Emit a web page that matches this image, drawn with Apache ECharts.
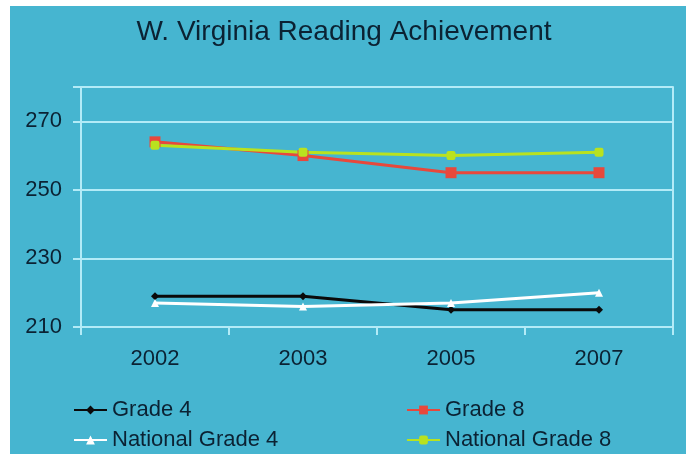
<!DOCTYPE html>
<html>
<head>
<meta charset="utf-8">
<script src="https://cdn.jsdelivr.net/npm/echarts@6/dist/echarts.min.js"></script>
<style>
  html, body { margin: 0; padding: 0; background: #fff; }
  #chart { position: absolute; left: 10px; top: 6px; width: 676px; height: 448px; }
</style>
</head>
<body>
<div id="chart"></div>
<script>
const years = ['2002', '2003', '2005', '2007']
const grade4 = [219, 219, 215, 215]
const grade8 = [264, 260, 255, 255]
const natGrade4 = [217, 216, 217, 220]
const natGrade8 = [263, 261, 260, 261]
const yMin = 210
const yMax = 280
const yStep = 20

const textColor = '#0b2233'
const lightLine = '#b3ebf7'
const font = 'Liberation Sans, Arial, sans-serif'

const chart = echarts.init(document.getElementById('chart'))

const legendText = {color: textColor, fontSize: 22, fontFamily: font}
const mkLegend = (name, left, top) => ({
  data: [name], left, top, orient: 'horizontal',
  itemWidth: 33, itemHeight: 11, itemGap: 4,
  textStyle: legendText, padding: 0
})

chart.setOption({
  backgroundColor: '#46b5d0',
  animation: false,
  title: {
    text: 'W. Virginia Reading Achievement',
    left: 329, top: 7, textAlign: 'center',
    textStyle: {color: textColor, fontSize: 28, fontWeight: 'normal', fontFamily: font}
  },
  legend: [
    mkLegend('Grade 4', 63, 393),
    mkLegend('Grade 8', 396, 393),
    mkLegend('National Grade 4', 63, 423),
    mkLegend('National Grade 8', 396, 423)
  ],
  grid: {left: 71, right: 13, top: 81, bottom: 127},
  xAxis: {
    type: 'category',
    data: years,
    boundaryGap: true,
    axisLine: {show: true, lineStyle: {color: lightLine, width: 2}},
    axisTick: {show: true, inside: false, length: 8, lineStyle: {color: lightLine, width: 2}},
    axisLabel: {color: textColor, fontSize: 22, fontFamily: font, margin: 21}
  },
  yAxis: [{
    type: 'value',
    min: yMin, max: yMax, interval: yStep,
    axisLine: {show: true, lineStyle: {color: lightLine, width: 2}},
    axisTick: {show: true, inside: false, length: 8, lineStyle: {color: lightLine, width: 2}},
    axisLabel: {
      color: textColor, fontSize: 22, fontFamily: font, margin: 19,
      formatter: v => (v === yMax ? '' : String(v))
    },
    splitLine: {show: true, lineStyle: {color: lightLine, width: 2}}
  }, {
    // right frame line
    type: 'value',
    position: 'right',
    min: yMin, max: yMax,
    axisLine: {show: true, lineStyle: {color: lightLine, width: 2}},
    axisTick: {show: false},
    axisLabel: {show: false},
    splitLine: {show: false}
  }],
  series: [
    {
      name: 'Grade 4', type: 'line', data: grade4,
      symbol: 'diamond', symbolSize: 8,
      lineStyle: {color: '#0a0a0a', width: 3},
      itemStyle: {color: '#0a0a0a'}
    },
    {
      name: 'Grade 8', type: 'line', data: grade8,
      symbol: 'rect', symbolSize: 11,
      lineStyle: {color: '#e8483c', width: 3},
      itemStyle: {color: '#e8483c'}
    },
    {
      name: 'National Grade 4', type: 'line', data: natGrade4,
      symbol: 'triangle', symbolSize: 8,
      lineStyle: {color: '#ffffff', width: 3},
      itemStyle: {color: '#ffffff'}
    },
    {
      name: 'National Grade 8', type: 'line', data: natGrade8,
      symbol: 'roundRect', symbolSize: 9,
      lineStyle: {color: '#b9e21f', width: 3},
      itemStyle: {color: '#b9e21f'}
    }
  ]
})
</script>
</body>
</html>
